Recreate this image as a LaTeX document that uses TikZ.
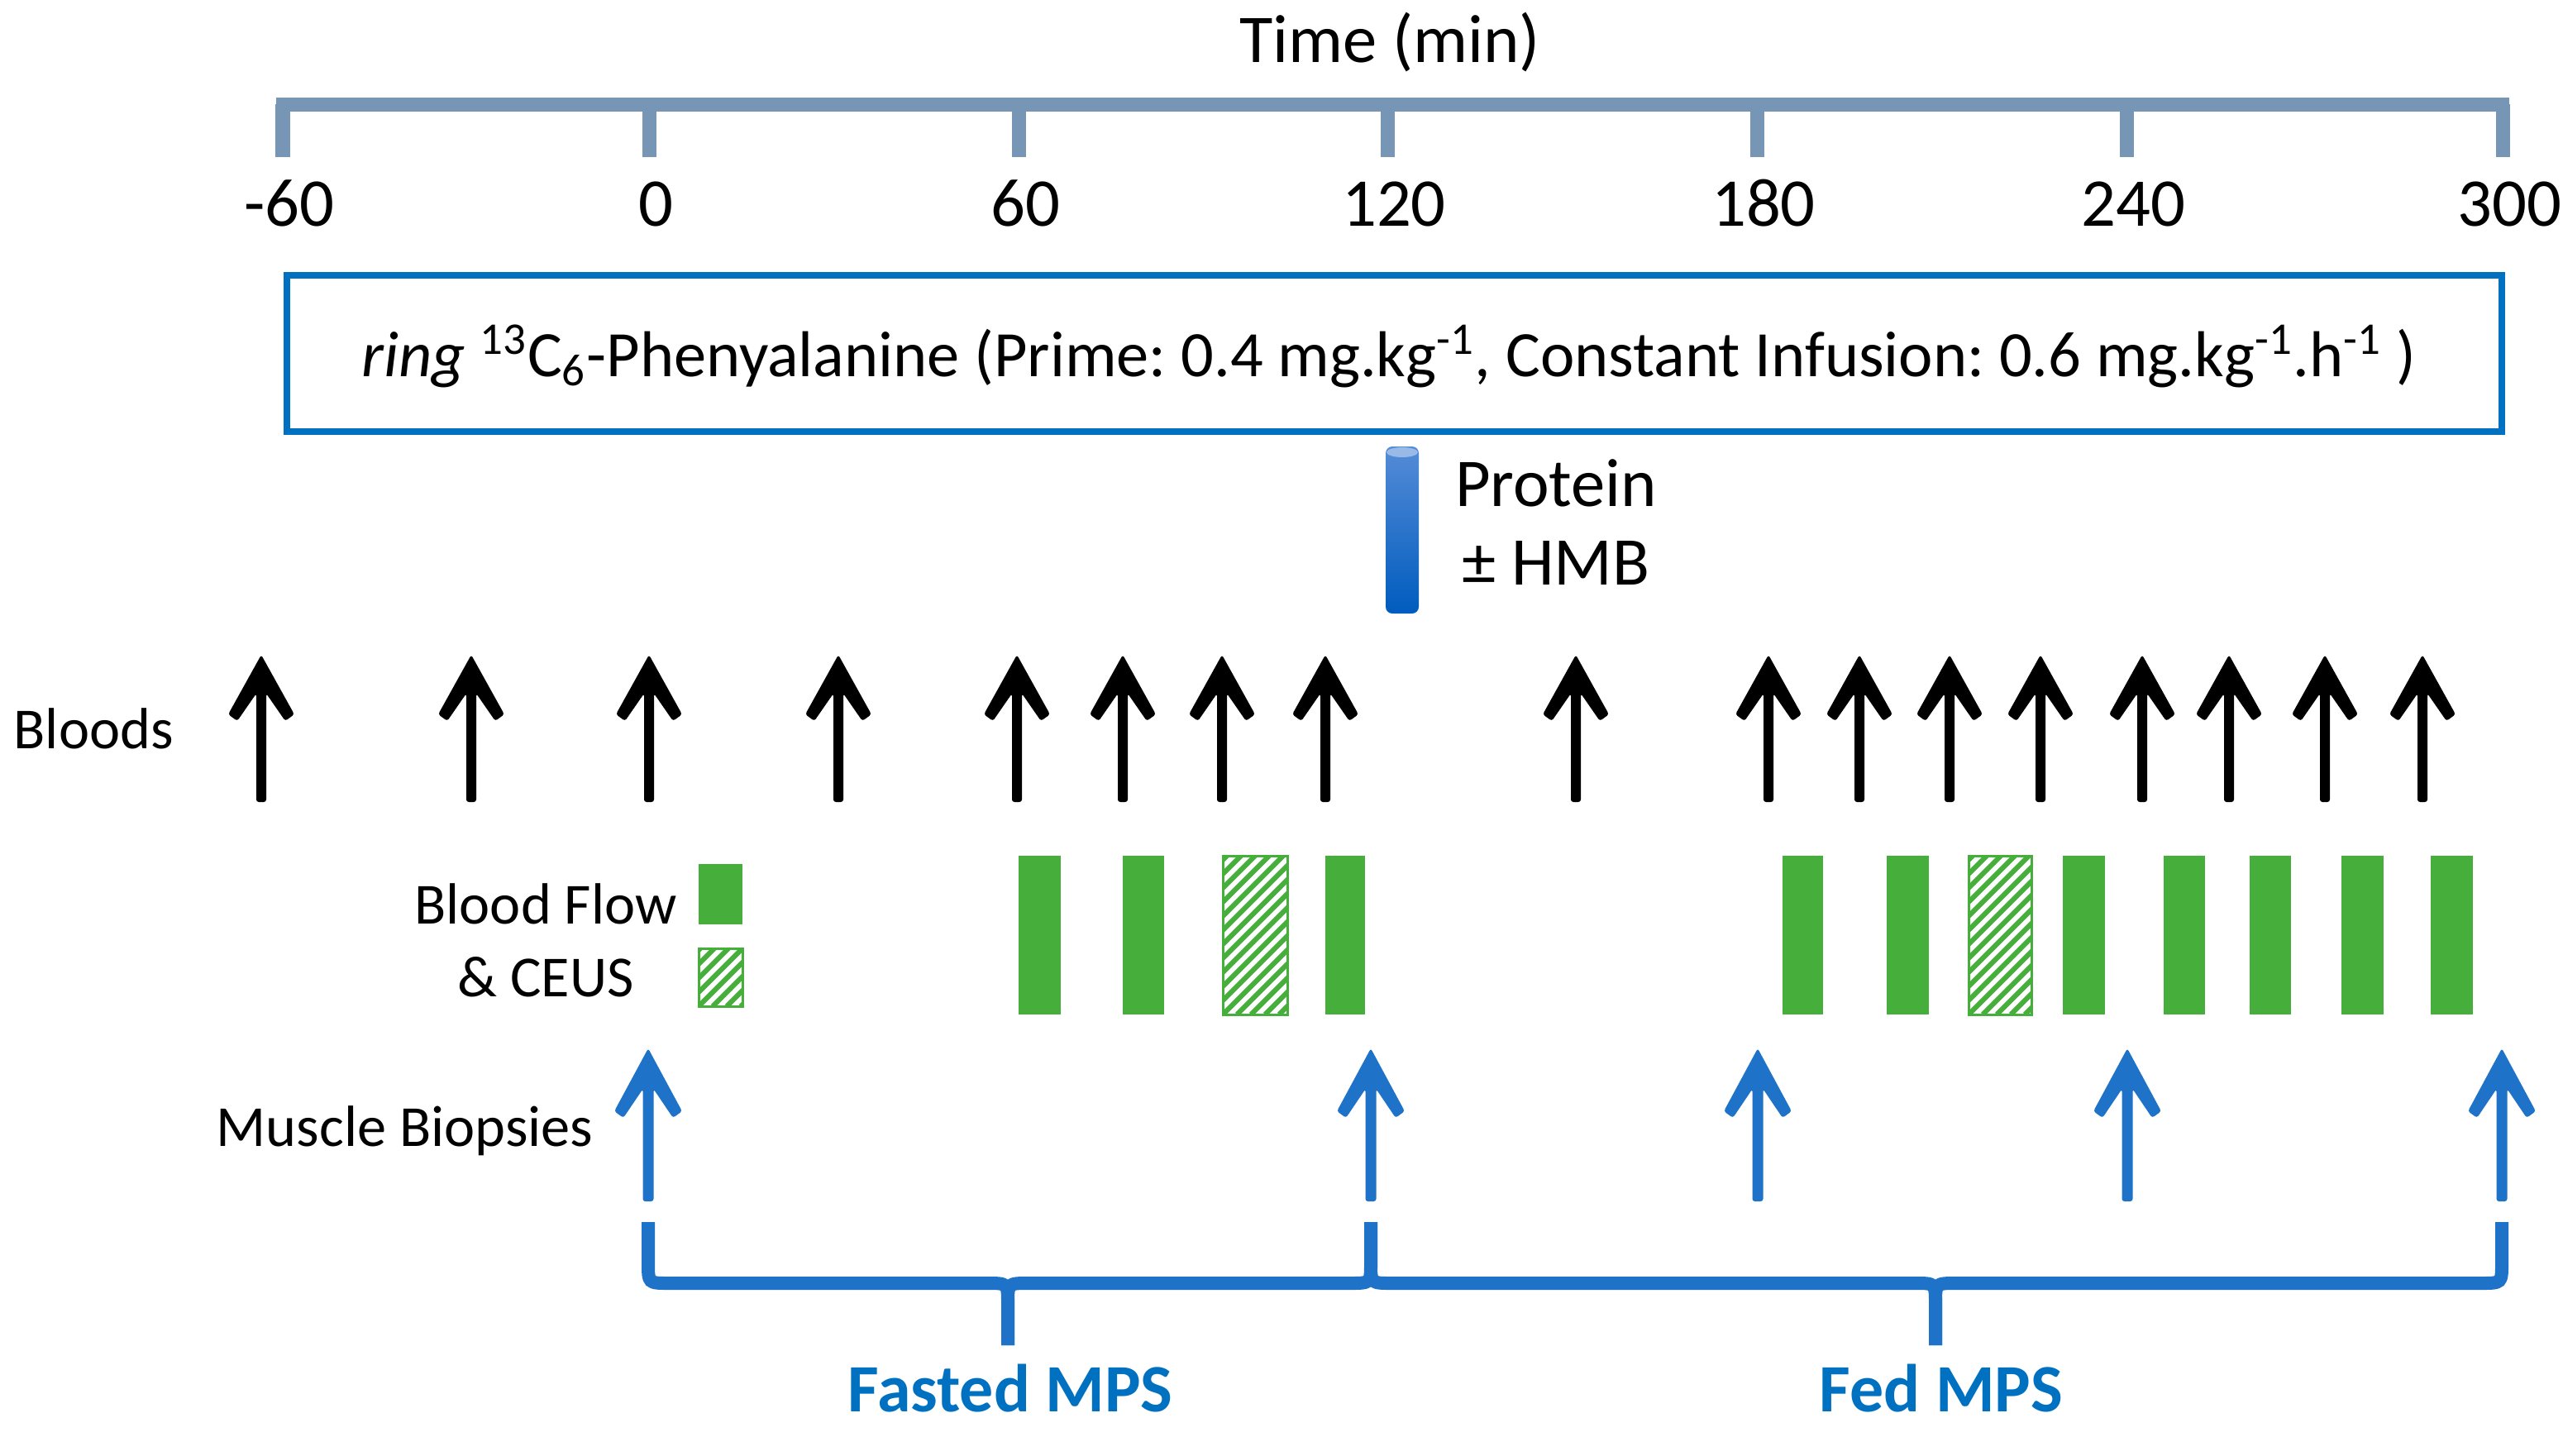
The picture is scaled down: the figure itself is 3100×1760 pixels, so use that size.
\documentclass[tikz,border=0pt]{standalone}
\usepackage{fontspec}
\setmainfont{Carlito}
\frenchspacing
\definecolor{axisc}{RGB}{119,150,181}
\definecolor{boxblue}{RGB}{0,112,192}
\definecolor{arrblue}{RGB}{30,115,200}
\definecolor{bargreen}{RGB}{70,175,60}
\definecolor{cyltop}{RGB}{85,140,215}
\definecolor{cylbot}{RGB}{0,92,190}
\tikzset{
  axisline/.style={draw=axisc, line width=0.17cm},
  bloodarr/.style={fill=black, rounded corners=0.03cm},
  biopsyarr/.style={fill=arrblue, rounded corners=0.03cm},
  bracestyle/.style={draw=arrblue, line width=0.16cm},
  lbl/.style={font=\fontsize{20}{24}\selectfont, inner sep=0pt},
  big/.style={font=\fontsize{23.5}{28}\selectfont, inner sep=0pt},
  infotext/.style={font=\fontsize{22.3}{27}\selectfont, inner sep=0pt},
  mps/.style={font=\fontsize{23.3}{28}\selectfont\bfseries, text=boxblue, inner sep=0pt},
  solidbar/.style={fill=bargreen},
}
% #1 x, #2 y of tip, #3 y of bottom, #4 style, #5 half shaft width, #6 half head width, #7 head length
\newcommand{\uparrowmark}[7]{%
  \path[#4] (#1,#2) -- ({#1+#6},{#2+#7-6}) -- ({#1+#6-11},{#2+#7+2}) -- ({#1+#5},{#2+0.6*#7})
    -- ({#1+#5},#3) -- ({#1-#5},#3) -- ({#1-#5},{#2+0.6*#7}) -- ({#1-#6+11},{#2+#7+2})
    -- ({#1-#6},{#2+#7-6}) -- cycle;
}
\newcommand{\hatchbox}[4]{%
  \begin{scope}
    \clip (#1,#3) rectangle (#2,#4);
    \foreach \k in {-238,-221,...,110} {\draw[bargreen, line width=0.06cm] ({#1+\k},#4) -- ++(300,-300);}
  \end{scope}
  \draw[bargreen, line width=0.03cm] (#1,#3) rectangle (#2,#4);
}
\begin{document}
\begin{tikzpicture}[x=0.01cm,y=-0.01cm]
\useasboundingbox (0,0) rectangle (3100,1760);

% time axis
\node[big, anchor=base] (title) at (1681,75) {Time (min)};
\draw[axisline] (334,126) -- (3035,126);
\foreach \x/\t [count=\i] in {342/-60,785/0,1232/60,1678/120,2125/180,2572/240,3027/300} {
  \draw[axisline] (\x,126) -- (\x,190);
  \node[big, anchor=base] (tick\i) at (\x+8,273) {\t};
}

% infusion box
\node[draw=boxblue, line width=0.08cm, minimum width=26.77cm, minimum height=1.89cm, inner sep=0pt] (box) at (1686.5,427.5) {};
\node[infotext, anchor=base] (infusion) at (1680,455) {\textit{ring} \textsuperscript{13}C\textsubscript{6}-Phenyalanine (Prime: 0.4 mg.kg\textsuperscript{-1}, Constant Infusion: 0.6 mg.kg\textsuperscript{-1}.h\textsuperscript{-1} )};

% protein drink
\shade[top color=cyltop, bottom color=cylbot, rounded corners=0.08cm] (1676,540) rectangle (1716,742);
\fill[cyltop!60!white] (1696,547) ellipse [x radius=19, y radius=6];
\node[big, anchor=base] (protein) at (1882,612) {Protein};
\node[big, anchor=base] (hmb) at (1882,707) {± HMB};

% bloods
\node[lbl, anchor=base west] (bloods) at (16,905) {Bloods};
\foreach \x in {316,570,785,1014,1230,1358,1478,1603,1906,2139,2249,2358,2468,2591,2696,2812,2930}
  {\uparrowmark{\x}{792}{970}{bloodarr}{6}{40}{78}}

% blood flow & CEUS
\node[lbl, anchor=base] (bflow) at (660,1117) {Blood Flow};
\node[lbl, anchor=base] (ceus) at (660,1205) {\& CEUS};
\fill[solidbar] (845,1045) rectangle (898,1118);
\hatchbox{845}{898}{1147}{1217}
\foreach \a/\b in {1232/1283,1358/1408,1603/1651,2156/2205,2282/2333,2495/2546,2617/2667,2721/2771,2832/2883,2940/2991}
  {\fill[solidbar] (\a,1035) rectangle (\b,1227);}
\hatchbox{1479}{1557}{1035}{1227}
\hatchbox{2381}{2457}{1035}{1227}

% muscle biopsies
\node[lbl, anchor=base west] (biopsies) at (261,1386) {Muscle Biopsies};
\foreach \x in {784,1658,2126,2573,3026}
  {\uparrowmark{\x}{1268}{1453}{biopsyarr}{6.5}{41}{82}}

% braces
\foreach \xa/\xm/\xb in {784/1219/1658, 1658/2341/3026} {
  \draw[bracestyle] (\xa,1478) -- (\xa,1527) .. controls (\xa,1552) .. (\xa+25,1552)
     -- (\xm-25,1552) .. controls (\xm,1552) .. (\xm,1577) -- (\xm,1627);
  \draw[bracestyle] (\xm,1627) -- (\xm,1577) .. controls (\xm,1552) .. (\xm+25,1552)
     -- (\xb-25,1552) .. controls (\xb,1552) .. (\xb,1527) -- (\xb,1478);
}
\node[mps, anchor=base] (fasted) at (1222,1707) {Fasted MPS};
\node[mps, anchor=base] (fed) at (2348,1707) {Fed MPS};
\end{tikzpicture}
\end{document}
